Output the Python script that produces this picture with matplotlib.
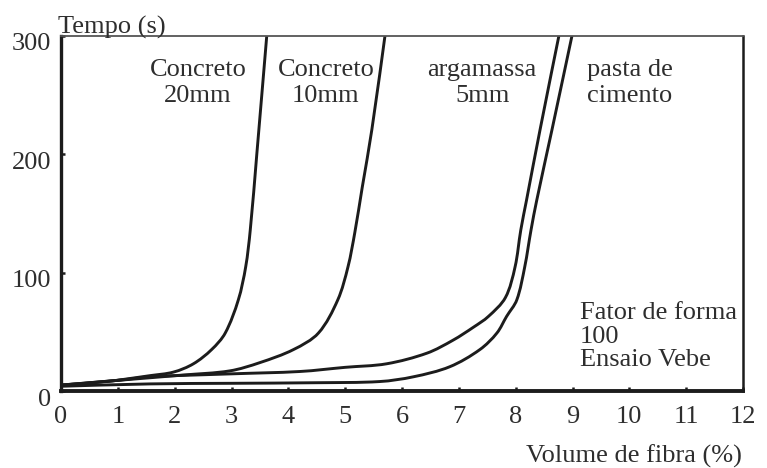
import matplotlib.pyplot as plt
import matplotlib.transforms as mtransforms
from matplotlib.path import Path
from matplotlib.patches import PathPatch
import numpy as np

# Tempo Vebe versus volume de fibra, fator de forma 100

concreto20_x = [0, 0.8, 1.57, 1.98, 2.33, 2.65, 2.89, 3.12, 3.25, 3.33, 3.445, 3.62]
concreto20_y = [5, 8, 13, 16, 23, 35, 49, 77, 105, 136, 200, 300]

concreto10_x = [0, 1.0, 2.15, 2.97, 3.50, 4.09, 4.53, 4.87, 5.05, 5.17, 5.30, 5.47, 5.70]
concreto10_y = [5, 9, 13.5, 17, 24, 35, 49, 77, 105, 134, 172, 221, 300]

argamassa_x = [0, 1.0, 1.57, 3.0, 4.21, 5.0, 5.73, 6.44, 6.90, 7.26, 7.52, 7.82, 7.99, 8.09, 8.19, 8.43, 8.76]
argamassa_y = [5, 9, 12, 14.5, 16.5, 20, 23, 32, 43, 54, 63, 79, 105, 136, 161, 221, 300]

pasta_x = [0, 1.57, 3.0, 4.5, 5.61, 6.20, 6.84, 7.37, 7.67, 7.84, 8.02, 8.16, 8.27, 8.37, 8.64, 8.99]
pasta_y = [4, 6, 6.5, 7, 8, 12, 20.5, 35, 49, 63, 77, 105, 136, 161, 221, 300]

x_ticks = np.arange(0, 13, 1)
y_ticks = [0, 100, 200, 300]

curve_labels = ["Concreto\n20mm", "Concreto\n10mm", "argamassa\n5mm", "pasta de\ncimento"]
label_x = [2.41, 4.66, 7.41, 10.01]
label_y = 260

serif = "Liberation Serif"
txt_color = "#2e2e2e"
line_color = "#1c1c1c"
fs = 19


def smooth_path(xs, ys, sx, sy):
    # Bezier path through the read points (Catmull-Rom, chord-length weighted)
    p = np.column_stack([xs, ys]).astype(float)
    q = p * [sx, sy]                      # roughly screen-proportional units
    d = np.hypot(*np.diff(q, axis=0).T)
    verts = [tuple(p[0])]
    codes = [Path.MOVETO]
    n = len(p)
    for i in range(n - 1):
        a = p[i - 1] if i > 0 else p[i]
        b = p[i + 2] if i + 2 < n else p[i + 1]
        d0 = d[i - 1] if i > 0 else d[i]
        d2 = d[i + 1] if i + 2 < n else d[i]
        c1 = p[i] + (p[i + 1] - a) * d[i] / (3 * (d0 + d[i]))
        c2 = p[i + 1] - (b - p[i]) * d[i] / (3 * (d[i] + d2))
        verts += [tuple(c1), tuple(c2), tuple(p[i + 1])]
        codes += [Path.CURVE4] * 3
    return Path(verts, codes)


fig = plt.figure(figsize=(7.67, 4.68), dpi=100)
ax = fig.add_axes([61 / 767, 1 - 391 / 468, 682 / 767, 355 / 468])

ax.set_xlim(0, 12)
ax.set_ylim(0, 300)

for xs, ys in [(concreto20_x, concreto20_y), (concreto10_x, concreto10_y),
               (argamassa_x, argamassa_y), (pasta_x, pasta_y)]:
    path = smooth_path(xs, ys, 682 / 12, 355 / 300)
    ax.add_patch(PathPatch(path, fill=False, edgecolor=line_color, linewidth=2.1,
                           capstyle="round", joinstyle="round"))

ax.set_xticks(x_ticks)
ax.set_yticks(y_ticks)
ax.tick_params(direction="in", length=3, width=1.8, colors=line_color,
               labelcolor=txt_color, labelsize=fs)
ax.tick_params(axis="x", pad=11)
ax.tick_params(axis="y", pad=7)
for lab in ax.get_xticklabels() + ax.get_yticklabels():
    lab.set_family(serif)
# y labels sit a little below their ticks in the original
offset = mtransforms.ScaledTranslation(0, -6 / 100, fig.dpi_scale_trans)
for lab in ax.get_yticklabels():
    lab.set_transform(lab.get_transform() + offset)

ax.spines["left"].set_linewidth(2.4)
ax.spines["bottom"].set_linewidth(2.8)
ax.spines["right"].set_linewidth(1.8)
ax.spines["top"].set_linewidth(1.3)
ax.spines["top"].set_color("#555555")
for side in ["left", "bottom", "right"]:
    ax.spines[side].set_color(line_color)

for lab, lx in zip(curve_labels, label_x):
    ax.text(lx, label_y, lab, ha="center", va="center", multialignment="center",
            fontsize=fs, family=serif, color=txt_color, linespacing=1.22)

ax.text(9.13, 46, "Fator de forma\n100\nEnsaio Vebe", ha="left", va="center",
        fontsize=fs, family=serif, color=txt_color, linespacing=1.08)

ax.text(-0.004, 1.006, "Tempo (s)", transform=ax.transAxes, ha="left", va="baseline",
        fontsize=fs, family=serif, color=txt_color)
fig.text(742 / 767, 1 - 463 / 468, "Volume de fibra (%)", ha="right", va="baseline",
         fontsize=fs, family=serif, color=txt_color)

fig.savefig("out.png", dpi=100)
